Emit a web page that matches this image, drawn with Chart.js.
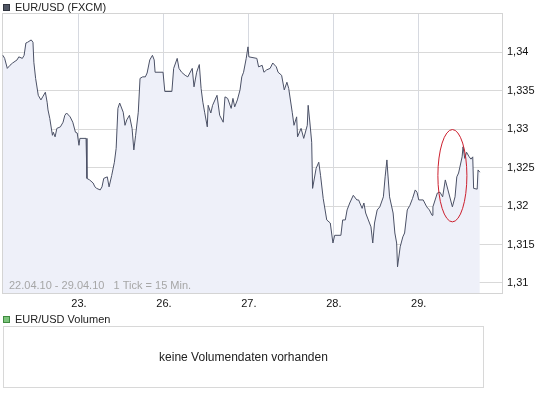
<!DOCTYPE html>
<html>
<head>
<meta charset="utf-8">
<script src="https://cdn.jsdelivr.net/npm/chart.js@4/dist/chart.umd.min.js"></script>
<style>
  body { margin: 0; background: #fff; font-family: "Liberation Sans", Arial, sans-serif; }
  #wrap { position: relative; width: 545px; height: 395px; }
  #chart { position: absolute; left: 0; top: 0; }
  .leg { position: absolute; left: 3px; font-size: 11px; line-height: 13px; color: #222; white-space: nowrap; }
  .sq { display: inline-block; width: 5px; height: 5px; border: 1px solid; margin-right: 5px; vertical-align: 0px; }
  #vol { position: absolute; left: 3px; top: 326px; width: 479px; height: 60px; border: 1px solid #d8d8d8;
         display: flex; align-items: center; justify-content: center; font-size: 12px; color: #222; }
</style>
</head>
<body>
<div id="wrap">
  <canvas id="chart" width="545" height="395"></canvas>
  <div class="leg" style="top:1px"><span class="sq" style="background:#4f5563;border-color:#30343e"></span>EUR/USD (FXCM)</div>
  <div class="leg" style="top:313px"><span class="sq" style="background:#7cc47c;border-color:#3f8a3f"></span>EUR/USD Volumen</div>
  <div id="vol">keine Volumendaten vorhanden</div>
</div>
<script>
// hours since 22.04.10 00:00 (trading hours, weekend skipped), 1 tick = 15 min
const hours = [2.5, 3, 3.75, 4.5, 5.25, 6.5, 7, 8, 8.5, 9, 9.5, 10.5, 11, 11.25, 11.75, 12.5, 13.25, 13.75, 14.5, 15,
  15.25, 15.75, 16.5, 16.75, 17.25, 17.75, 18.75, 19.5, 20, 20.5, 21.5, 22.25, 23, 23.5, 24, 24.25, 26, 26.25, 27, 28,
  28.5, 29, 30, 30.5, 31, 32, 32.5, 33.25, 34, 34.5, 35, 35.5, 36.5, 37, 37.5, 38.25, 39, 39.5, 40, 40.75,
  41.25, 42, 42.75, 43.25, 44, 44.75, 45.25, 45.5, 47.75, 48.25, 50.25, 50.75, 51.75, 52.25, 53, 54, 54.75, 56, 56.5, 57.25,
  58, 58.5, 59, 59.5, 60.25, 60.5, 61.25, 61.75, 63, 63.75, 64.75, 65.25, 66, 67, 67.5, 68, 68.75, 69.5, 70, 70.5,
  71.25, 71.75, 72, 74.25, 74.75, 75.75, 76.25, 77, 78, 78.75, 79.75, 80.25, 81.25, 82, 82.75, 83.25, 84.25, 84.75, 85.5, 85.75,
  86.75, 87.5, 88.5, 88.75, 89.25, 89.75, 90, 91, 91.75, 92.25, 93, 94, 95, 95.75, 96.25, 98, 98.5, 99.25, 99.75, 100.5,
  101.5, 102.5, 103, 104, 104.5, 105, 105.75, 106.5, 107, 107.5, 108.25, 109, 110, 110.5, 111, 111.25, 111.75, 112.75, 113.25, 113.75,
  114, 114.75, 115.5, 116, 116.75, 117.5, 118.25, 119, 119.5, 120, 121.25, 122.25, 123, 123.75, 124, 125.25, 126, 126.75, 127.5, 128.25,
  129.5, 130.25, 130.75, 131.25, 132.25, 132.5, 133, 133.5, 134.25, 134.75, 135.25, 135.5, 136.5, 136.75, 137.25]
const prices = [1.3396, 1.3392, 1.3379, 1.3383, 1.3386, 1.3390, 1.3394, 1.3392, 1.3396, 1.3412, 1.3413, 1.3416, 1.3413, 1.3387, 1.3366, 1.3344, 1.3338, 1.3342, 1.3348, 1.3335,
  1.3325, 1.3314, 1.3292, 1.3296, 1.3290, 1.3301, 1.3303, 1.3309, 1.3318, 1.3321, 1.3316, 1.3309, 1.3296, 1.3295, 1.3279, 1.3288, 1.3288, 1.3236, 1.3234, 1.3230,
  1.3225, 1.3223, 1.3221, 1.3225, 1.3236, 1.3238, 1.3225, 1.3240, 1.3257, 1.3275, 1.3327, 1.3334, 1.3322, 1.3305, 1.3312, 1.3318, 1.3301, 1.3273, 1.3292, 1.3322,
  1.3366, 1.3368, 1.3368, 1.3373, 1.3390, 1.3396, 1.3390, 1.3374, 1.3374, 1.3349, 1.3349, 1.3379, 1.3392, 1.3379, 1.3374, 1.3370, 1.3368, 1.3379, 1.3355, 1.3374,
  1.3384, 1.3353, 1.3335, 1.3322, 1.3303, 1.3331, 1.3321, 1.3331, 1.3344, 1.3318, 1.3309, 1.3342, 1.3340, 1.3327, 1.3340, 1.3329, 1.3338, 1.3351, 1.3368, 1.3374,
  1.3392, 1.3407, 1.3394, 1.3392, 1.3381, 1.3383, 1.3374, 1.3377, 1.3379, 1.3386, 1.3381, 1.3374, 1.3370, 1.3351, 1.3361, 1.3353, 1.3322, 1.3305, 1.3316, 1.3290,
  1.3301, 1.3288, 1.3305, 1.3331, 1.3308, 1.3283, 1.3223, 1.3249, 1.3257, 1.3240, 1.3210, 1.3182, 1.3178, 1.3152, 1.3162, 1.3162, 1.3182, 1.3182, 1.3195, 1.3204,
  1.3214, 1.3208, 1.3208, 1.3197, 1.3204, 1.3191, 1.3182, 1.3173, 1.3152, 1.3178, 1.3195, 1.3199, 1.3212, 1.3238, 1.3260, 1.3243, 1.3212, 1.3191, 1.3165, 1.3152,
  1.3121, 1.3147, 1.3160, 1.3165, 1.3195, 1.3201, 1.3210, 1.3221, 1.3218, 1.3208, 1.3208, 1.3199, 1.3195, 1.3188, 1.3199, 1.3217, 1.3218, 1.3212, 1.3234, 1.3221,
  1.3199, 1.3212, 1.3238, 1.3243, 1.3264, 1.3277, 1.3262, 1.3270, 1.3264, 1.3261, 1.3264, 1.3223, 1.3222, 1.3247, 1.3244]

const dayHours = [24, 48, 72, 96, 120]
const dayLabels = ['23.', '26.', '27.', '28.', '29.']
const priceTicks = [1.31, 1.315, 1.32, 1.325, 1.33, 1.335, 1.34]

// red marker around the last rise (centre + half sizes in data units)
const circle = { h: 129.5, p: 1.32395, dh: 4.1, dp: 0.006 }

const FONT = { family: '"Liberation Sans", Arial, sans-serif', size: 11 }

const extras = {
  id: 'extras',
  beforeDatasetsDraw(chart) {
    const { ctx, chartArea: a } = chart
    ctx.save()
    ctx.strokeStyle = '#d4d4d4'
    ctx.lineWidth = 1
    ctx.strokeRect(a.left + 0.5, a.top + 0.5, a.right - a.left - 1, a.bottom - a.top)
    ctx.restore()
  },
  afterDatasetsDraw(chart) {
    const { ctx, chartArea: a, scales: { x, y } } = chart
    ctx.save()
    ctx.font = '11px "Liberation Sans", Arial, sans-serif'
    ctx.fillStyle = '#a6a6a6'
    ctx.textBaseline = 'alphabetic'
    ctx.fillText('22.04.10 - 29.04.10   1 Tick = 15 Min.', a.left + 7, a.bottom - 4)

    const cx = x.getPixelForValue(circle.h), cy = y.getPixelForValue(circle.p)
    const rx = x.getPixelForValue(circle.h + circle.dh) - cx
    const ry = cy - y.getPixelForValue(circle.p + circle.dp)
    ctx.strokeStyle = '#cc1f2e'
    ctx.lineWidth = 1
    ctx.beginPath()
    ctx.ellipse(cx, cy, rx, ry, 0, 0, Math.PI * 2)
    ctx.stroke()
    ctx.restore()
  }
}

new Chart(document.getElementById('chart'), {
  type: 'line',
  data: {
    datasets: [{
      data: hours.map((h, i) => ({ x: h, y: prices[i] })),
      borderColor: '#4b5166',
      borderWidth: 1,
      backgroundColor: '#eef0f9',
      fill: 'start',
      pointRadius: 0,
      tension: 0
    }]
  },
  options: {
    responsive: false,
    animation: false,
    devicePixelRatio: 1,
    layout: { padding: { left: 2, top: 13, right: 0, bottom: 82 } },
    plugins: { legend: { display: false }, tooltip: { enabled: false } },
    scales: {
      x: {
        type: 'linear',
        min: 2.25,
        max: 143.8,
        afterBuildTicks: s => { s.ticks = dayHours.map(v => ({ value: v })) },
        afterFit: s => { s.height = 20 },
        grid: { color: '#d6d9e0', drawTicks: false },
        border: { display: false },
        ticks: {
          padding: 4,
          color: '#111',
          font: FONT,
          maxRotation: 0,
          callback: v => dayLabels[dayHours.indexOf(v)]
        }
      },
      y: {
        position: 'right',
        min: 1.3087,
        max: 1.3451,
        afterBuildTicks: s => { s.ticks = priceTicks.map(v => ({ value: v })) },
        afterFit: s => { s.width = 42 },
        grid: { color: '#d9d9d9', drawTicks: false },
        border: { display: false },
        ticks: {
          padding: 4,
          color: '#111',
          font: FONT,
          callback: v => String(v).replace('.', ',')
        }
      }
    }
  },
  plugins: [extras]
})
</script>
</body>
</html>
